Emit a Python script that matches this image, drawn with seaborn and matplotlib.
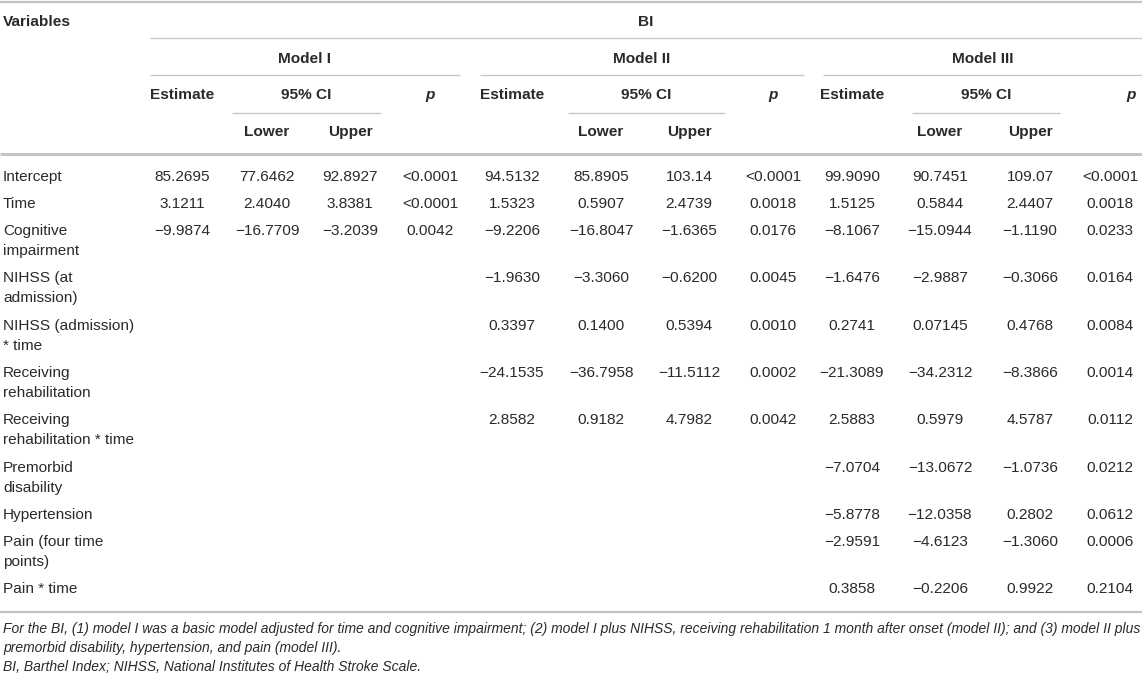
import numpy as np
import pandas as pd
import matplotlib
matplotlib.use('Agg')
import matplotlib.pyplot as plt
import seaborn as sns

# 표 데이터 (문자열 그대로 유지: 자리수 표기가 다름)
variables = ['Intercept', 'Time', 'Cognitive\nimpairment', 'NIHSS (at\nadmission)',
             'NIHSS (admission)\n* time', 'Receiving\nrehabilitation',
             'Receiving\nrehabilitation * time', 'Premorbid\ndisability',
             'Hypertension', 'Pain (four time\npoints)', 'Pain * time']

m1_est = ['85.2695', '3.1211', '−9.9874']
m1_low = ['77.6462', '2.4040', '−16.7709']
m1_up = ['92.8927', '3.8381', '−3.2039']
m1_p = ['<0.0001', '<0.0001', '0.0042']

m2_est = ['94.5132', '1.5323', '−9.2206', '−1.9630', '0.3397', '−24.1535', '2.8582']
m2_low = ['85.8905', '0.5907', '−16.8047', '−3.3060', '0.1400', '−36.7958', '0.9182']
m2_up = ['103.14', '2.4739', '−1.6365', '−0.6200', '0.5394', '−11.5112', '4.7982']
m2_p = ['<0.0001', '0.0018', '0.0176', '0.0045', '0.0010', '0.0002', '0.0042']

m3_est = ['99.9090', '1.5125', '−8.1067', '−1.6476', '0.2741', '−21.3089', '2.5883',
          '−7.0704', '−5.8778', '−2.9591', '0.3858']
m3_low = ['90.7451', '0.5844', '−15.0944', '−2.9887', '0.07145', '−34.2312', '0.5979',
          '−13.0672', '−12.0358', '−4.6123', '−0.2206']
m3_up = ['109.07', '2.4407', '−1.1190', '−0.3066', '0.4768', '−8.3866', '4.5787',
         '−1.0736', '0.2802', '−1.3060', '0.9922']
m3_p = ['<0.0001', '0.0018', '0.0233', '0.0164', '0.0084', '0.0014', '0.0112',
        '0.0212', '0.0612', '0.0006', '0.2104']

models = ['Model I', 'Model II', 'Model III']
footnotes = [
    'For the BI, (1) model I was a basic model adjusted for time and cognitive impairment; '
    '(2) model I plus NIHSS, receiving rehabilitation 1 month after onset (model II); and (3) model II plus',
    'premorbid disability, hypertension, and pain (model III).',
    'BI, Barthel Index; NIHSS, National Institutes of Health Stroke Scale.',
]

def pad(col):
    return col + [''] * (len(variables) - len(col))

df = pd.DataFrame({
    'var': variables,
    'm1_est': pad(m1_est), 'm1_low': pad(m1_low), 'm1_up': pad(m1_up), 'm1_p': pad(m1_p),
    'm2_est': pad(m2_est), 'm2_low': pad(m2_low), 'm2_up': pad(m2_up), 'm2_p': pad(m2_p),
    'm3_est': pad(m3_est), 'm3_low': pad(m3_low), 'm3_up': pad(m3_up), 'm3_p': pad(m3_p),
})

# 레이아웃 (픽셀 단위)
W, H = 1142, 677
col_x = {
    'm1_est': 182, 'm1_low': 267, 'm1_up': 350, 'm1_p': 430,
    'm2_est': 512, 'm2_low': 601, 'm2_up': 689, 'm2_p': 773,
    'm3_est': 852, 'm3_low': 940, 'm3_up': 1030, 'm3_p': 1110,
}
p_head_x = [430, 773, 1131]
model_span = [(150, 460), (480, 804), (823, 1142)]
ci_span = [(232, 381), (568, 725), (912, 1060)]

sns.set_theme(style='white')
plt.rcParams['font.family'] = ['Liberation Sans', 'DejaVu Sans']
TXT = '#2a2a2a'
LINE = '#c4c4c4'
FS = 11.1

fig = plt.figure(figsize=(W / 100, H / 100), dpi=100)
ax = fig.add_axes([0, 0, 1, 1])
ax.set_xlim(0, W)
ax.set_ylim(H, 0)
ax.axis('off')

# 가로선
ax.hlines(2, 0, W, color=LINE, lw=1.6)
ax.hlines(38, 150, W, color=LINE, lw=0.9)
for a, b in model_span:
    ax.hlines(75, a, b, color=LINE, lw=0.9)
for a, b in ci_span:
    ax.hlines(113, a, b, color=LINE, lw=0.9)
ax.hlines(154, 0, W, color=LINE, lw=2.2)
ax.hlines(612, 0, W, color=LINE, lw=1.6)

# 헤더
bold = dict(fontsize=FS, fontweight='bold', color=TXT, va='center')
ax.text(3, 22, 'Variables', ha='left', **bold)
ax.text(646, 22, 'BI', ha='center', **bold)
for i, m in enumerate(models):
    a, b = model_span[i]
    ax.text((a + b) / 2, 59, m, ha='center', **bold)
    k = 'm%d' % (i + 1)
    ax.text(col_x[k + '_est'], 95, 'Estimate', ha='center', **bold)
    ca, cb = ci_span[i]
    ax.text((ca + cb) / 2, 95, '95% CI', ha='center', **bold)
    ax.text(p_head_x[i], 95, 'p', ha='center', style='italic', **bold)
    ax.text(col_x[k + '_low'], 132, 'Lower', ha='center', **bold)
    ax.text(col_x[k + '_up'], 132, 'Upper', ha='center', **bold)

# 본문
y = 177.0
for _, row in df.iterrows():
    lines = row['var'].split('\n')
    for j, ln in enumerate(lines):
        ax.text(3, y + j * 20, ln, ha='left', va='center', fontsize=FS, color=TXT)
    for c, x in col_x.items():
        if row[c]:
            ax.text(x, y, row[c], ha='center', va='center', fontsize=FS, color=TXT)
    y += 27 if len(lines) == 1 else 47.3

# 각주
for j, t in enumerate(footnotes):
    ax.text(3, 629 + j * 19, t, ha='left', va='center', fontsize=10,
            style='italic', color=TXT)

fig.savefig('out.png', dpi=100)
